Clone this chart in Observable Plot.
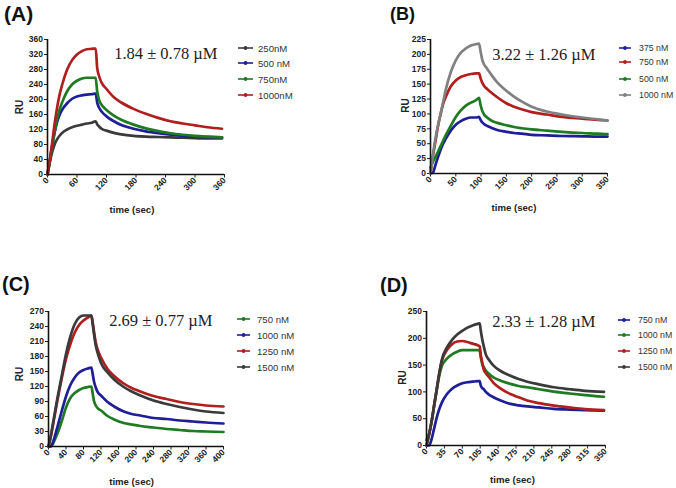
<!DOCTYPE html>
<html><head><meta charset="utf-8">
<script src="https://cdn.jsdelivr.net/npm/d3@7"></script>
<script src="https://cdn.jsdelivr.net/npm/@observablehq/plot@0.6"></script>
<style>
html,body{margin:0;padding:0;background:#fff;}
#root{position:relative;width:676px;height:488px;overflow:hidden;background:#fff;}
.panel{position:absolute;}
.tag{position:absolute;font-family:"Liberation Sans",Arial,sans-serif;font-weight:bold;color:#111;line-height:1;white-space:nowrap;}
.lrow{position:absolute;display:flex;align-items:center;white-space:nowrap;height:12px;font-family:"Liberation Sans",Arial,sans-serif;color:#333;}
.lrow svg{display:block;}
</style></head><body><div id="root"></div>
<script>
// ---------- Panel A ----------
const timeA = [0, 5, 10, 15, 20, 25, 30, 40, 50, 60, 70, 80, 90, 98, 101, 105, 110, 120, 135, 150, 175, 200, 225, 250, 275, 300, 325, 355];
const ruA_250 = [0, 35, 62, 82, 95, 104, 111, 120, 126, 130, 133, 136, 138, 142, 134, 128, 122, 117, 111, 107, 103, 101, 100, 99, 98, 97, 96, 96];
const ruA_500 = [0, 38, 80, 115, 142, 160, 173, 190, 202, 208, 211, 213, 214, 216, 192, 178, 168, 155, 142, 132, 122, 115, 110, 106, 103, 101, 100, 99];
const ruA_750 = [0, 38, 80, 118, 150, 175, 193, 222, 240, 250, 256, 258, 258, 258, 222, 198, 186, 172, 157, 146, 133, 123, 116, 110, 106, 103, 101, 99];
const ruA_1000 = [0, 42, 90, 140, 182, 215, 240, 280, 305, 320, 329, 334, 335, 336, 285, 262, 245, 228, 206, 192, 175, 162, 151, 142, 136, 131, 126, 122];
const xTicksA = [0, 60, 120, 180, 240, 300, 360];
const yTicksA = [0, 40, 80, 120, 160, 200, 240, 280, 320, 360];

// ---------- Panel B ----------
const timeB = [0, 5, 10, 15, 20, 25, 30, 40, 50, 60, 70, 80, 90, 96, 99, 102, 106, 112, 120, 132, 150, 165, 180, 200, 230, 260, 300, 330, 350];
const ruB_375 = [0, 2, 15, 28, 40, 50, 58, 72, 82, 88, 92, 94, 94, 95, 90, 86, 83, 80, 77, 73, 70, 68, 67, 65, 64, 63, 62.5, 62, 62];
const ruB_750 = [0, 30, 55, 80, 100, 117, 128, 146, 156, 162, 165, 167, 168, 168, 160, 153, 147, 142, 136, 128, 118, 112, 108, 103, 99, 95, 92, 90, 89];
const ruB_500 = [10, 20, 28, 37, 46, 55, 64, 80, 95, 106, 114, 119, 123, 127, 115, 106, 99, 94, 89, 85, 81, 78, 76, 74, 72, 70, 68, 67, 66];
const ruB_1000 = [0, 32, 60, 82, 100, 120, 140, 170, 190, 203, 210, 215, 217, 218, 205, 192, 183, 176, 166, 153, 139, 129, 121, 112, 104, 99, 94, 91, 89];
const xTicksB = [0, 50, 100, 150, 200, 250, 300, 350];
const yTicksB = [0, 25, 50, 75, 100, 125, 150, 175, 200, 225];

// ---------- Panel C ----------
const timeC = [0, 5, 10, 15, 20, 30, 40, 50, 60, 70, 80, 90, 98, 101, 104, 108, 113, 120, 135, 150, 172, 190, 210, 240, 270, 300, 330, 360, 400];
const ruC_750 = [0, 0, 5, 15, 25, 50, 78, 97, 107, 113, 117, 119, 120, 106, 91, 82, 76, 72, 61, 54, 47, 44, 41, 38, 35, 33, 31, 30, 29];
const ruC_1000 = [0, 0, 8, 22, 38, 70, 100, 123, 138, 148, 153, 156, 158, 145, 130, 118, 108, 102, 89, 80, 70, 65, 62, 57, 55, 52, 50, 48, 46];
const ruC_1250 = [0, 18, 42, 66, 90, 135, 175, 205, 228, 243, 252, 258, 262, 248, 230, 208, 192, 178, 155, 141, 126, 117, 110, 101, 95, 89, 85, 82, 80];
const ruC_1500 = [0, 20, 45, 70, 95, 140, 185, 220, 245, 258, 262, 262, 262, 245, 225, 202, 185, 167, 148, 134, 119, 110, 102, 92, 85, 79, 74, 70, 67];
const xTicksC = [0, 40, 80, 120, 160, 200, 240, 280, 320, 360, 400];
const yTicksC = [0, 30, 60, 90, 120, 150, 180, 210, 240, 270];

// ---------- Panel D ----------
const timeD = [0, 5, 10, 15, 20, 25, 30, 40, 50, 60, 70, 80, 90, 100, 104, 106, 109, 112, 116, 122, 131, 145, 164, 180, 197, 220, 249, 280, 310, 347];
const ruD_750 = [0, 0, 12, 32, 52, 68, 80, 96, 106, 112, 116, 118, 119, 120, 120, 112, 107, 105, 100, 95, 90, 84, 77.6, 75, 73, 71, 68.3, 67, 66, 65];
const ruD_1000 = [10, 22, 45, 75, 103, 130, 148, 162, 170, 175, 178, 178, 178, 178, 177, 165, 152, 146, 140, 134, 127, 121, 115, 111, 108.6, 105, 100.6, 97, 94, 91];
const ruD_1250 = [0, 20, 45, 75, 105, 135, 158, 178, 189, 194, 195, 193, 190, 187, 185, 170, 155, 141, 135, 128, 117, 106, 96, 90, 84, 79, 74.5, 71, 68, 66];
const ruD_1500 = [0, 20, 45, 75, 105, 135, 160, 183, 197, 207, 214, 220, 224, 227, 228, 215, 198, 185, 170, 160, 149, 139, 130, 124, 119, 114, 108.6, 105, 102, 100];
const xTicksD = [0, 35, 70, 105, 140, 175, 210, 245, 280, 315, 350];
const yTicksD = [0, 50, 100, 150, 200, 250];

const panelTags = ["(A)", "(B)", "(C)", "(D)"];
const kdLabels = ["1.84 \u00b1 0.78 \u00b5M", "3.22 \u00b1 1.26 \u00b5M", "2.69 \u00b1 0.77 \u00b5M", "2.33 \u00b1 1.28 \u00b5M"];

// ---------- styles ----------
const RED = "#b01e1e", GREEN = "#1f7a22", BLUE = "#1e1e96", BLACK = "#3a3a3a", GRAY = "#808080";

const panels = [
  { tag: panelTags[0], tagX: 4, tagY: 3, tagSize: 21,
    left: 0, top: 30, width: 230, height: 190, mL: 47, mR: 6, mT: 9, mB: 46,
    xDomain: [0, 360], xTicks: xTicksA, yDomain: [0, 360], yTicks: yTicksA, time: timeA,
    series: [
      {name: "250nM", values: ruA_250, color: BLACK},
      {name: "500 nM", values: ruA_500, color: BLUE},
      {name: "750nM", values: ruA_750, color: GREEN},
      {name: "1000nM", values: ruA_1000, color: RED}],
    note: kdLabels[0], noteDx: -7, noteDy: 14,
    ruDx: -27.5, ruDy: 0, tDx: -4, tDy: 35.5,
    legX: 238, legW: 15, legGap: 5, legFont: 9.6, legY: [48, 63, 79, 95] },
  { tag: panelTags[1], tagX: 390, tagY: 5, tagSize: 18,
    left: 380, top: 30, width: 230, height: 190, mL: 50, mR: 3, mT: 9, mB: 47,
    xDomain: [0, 350], xTicks: xTicksB, yDomain: [0, 225], yTicks: yTicksB, time: timeB,
    series: [
      {name: "375 nM", values: ruB_375, color: BLUE},
      {name: "750 nM", values: ruB_750, color: RED},
      {name: "500 nM", values: ruB_500, color: GREEN},
      {name: "1000 nM", values: ruB_1000, color: GRAY}],
    note: kdLabels[1], noteDx: -12, noteDy: 15,
    ruDx: -25, ruDy: -1, tDx: -5, tDy: 34,
    legX: 619, legW: 12, legGap: 8, legFont: 8.8, legY: [48, 62, 79, 95] },
  { tag: panelTags[2], tagX: 2, tagY: 274, tagSize: 20,
    left: 0, top: 300, width: 226, height: 188, mL: 48, mR: 3, mT: 11, mB: 42,
    xDomain: [0, 400], xTicks: xTicksC, yDomain: [0, 270], yTicks: yTicksC, time: timeC,
    series: [
      {name: "750 nM", values: ruC_750, color: GREEN},
      {name: "1000 nM", values: ruC_1000, color: BLUE},
      {name: "1250 nM", values: ruC_1250, color: RED},
      {name: "1500 nM", values: ruC_1500, color: BLACK}],
    note: kdLabels[2], noteDx: -11, noteDy: 9.5,
    ruDx: -28.4, ruDy: -5, tDx: -4.4, tDy: 35,
    legX: 237, legW: 13, legGap: 7, legFont: 9.6, legY: [319, 335, 351, 367] },
  { tag: panelTags[3], tagX: 380, tagY: 275, tagSize: 20,
    left: 380, top: 300, width: 228, height: 188, mL: 46, mR: 3, mT: 11, mB: 43,
    xDomain: [0, 350], xTicks: xTicksD, yDomain: [0, 250], yTicks: yTicksD, time: timeD,
    series: [
      {name: "750 nM", values: ruD_750, color: BLUE},
      {name: "1000 nM", values: ruD_1000, color: GREEN},
      {name: "1250 nM", values: ruD_1250, color: RED},
      {name: "1500 nM", values: ruD_1500, color: BLACK}],
    note: kdLabels[3], noteDx: -10, noteDy: 10,
    ruDx: -24, ruDy: -1, tDx: -3.5, tDy: 34,
    legX: 618, legW: 12, legGap: 8, legFont: 8.8, legY: [320, 335, 351, 367] }
];

const root = document.getElementById("root");

for (const p of panels) {
  const lineMarks = p.series.map(s =>
    Plot.line(p.time.map((t, i) => ({t, v: s.values[i]})), {
      x: "t", y: "v", stroke: s.color, strokeWidth: 2.7, curve: "monotone-x"
    }));
  const chart = Plot.plot({
    width: p.width, height: p.height,
    marginLeft: p.mL, marginRight: p.mR, marginTop: p.mT, marginBottom: p.mB,
    x: {domain: p.xDomain},
    y: {domain: p.yDomain},
    style: {fontFamily: "'Liberation Sans', Arial, sans-serif", fontSize: "8.5px", fontWeight: "bold", color: "#222", background: "transparent", overflow: "visible"},
    marks: [
      Plot.axisX({ticks: p.xTicks, tickRotate: -45, tickSize: 3.5, tickPadding: 1, label: null, fontSize: 8.5, fontWeight: "bold"}),
      Plot.axisY({ticks: p.yTicks, tickSize: 3, tickPadding: 1.5, label: null, fontSize: 8.5, fontWeight: "bold"}),
      ...lineMarks,
      Plot.ruleY([0], {stroke: "#111", strokeWidth: 1.6}),
      Plot.ruleX([0], {stroke: "#111", strokeWidth: 1.6}),
      Plot.text([p.note], {frameAnchor: "top-right", text: d => d, dx: p.noteDx, dy: p.noteDy,
        textAnchor: "end", lineAnchor: "middle", fontFamily: "'Liberation Serif', 'Times New Roman', serif",
        fontSize: 16.5, fontWeight: "normal", fill: "#222"}),
      Plot.text(["RU"], {frameAnchor: "left", text: d => d, rotate: -90, dx: p.ruDx, dy: p.ruDy,
        textAnchor: "middle", lineAnchor: "middle", fontSize: 10, fontWeight: "bold", fill: "#222"}),
      Plot.text(["time (sec)"], {frameAnchor: "bottom", text: d => d, dx: p.tDx, dy: p.tDy,
        textAnchor: "middle", lineAnchor: "middle", fontSize: 9.6, fontWeight: "bold", fill: "#222"})
    ]
  });
  const holder = document.createElement("div");
  holder.className = "panel";
  holder.style.left = p.left + "px";
  holder.style.top = p.top + "px";
  holder.appendChild(chart);
  root.appendChild(holder);

  const tag = document.createElement("div");
  tag.className = "tag";
  tag.style.left = p.tagX + "px";
  tag.style.top = p.tagY + "px";
  tag.style.fontSize = p.tagSize + "px";
  tag.textContent = p.tag;
  root.appendChild(tag);

  p.series.forEach((s, i) => {
    const row = document.createElement("div");
    row.className = "lrow";
    row.style.left = p.legX + "px";
    row.style.top = (p.legY[i] - 6) + "px";
    row.style.fontSize = p.legFont + "px";
    row.innerHTML = `<svg width="${p.legW}" height="12"><line x1="0" x2="${p.legW}" y1="6" y2="6" stroke="${s.color}" stroke-width="1.6"/><circle cx="${p.legW / 2}" cy="6" r="1.9" fill="${s.color}"/></svg><span style="margin-left:${p.legGap}px">${s.name}</span>`;
    root.appendChild(row);
  });
}
</script>
</body></html>
